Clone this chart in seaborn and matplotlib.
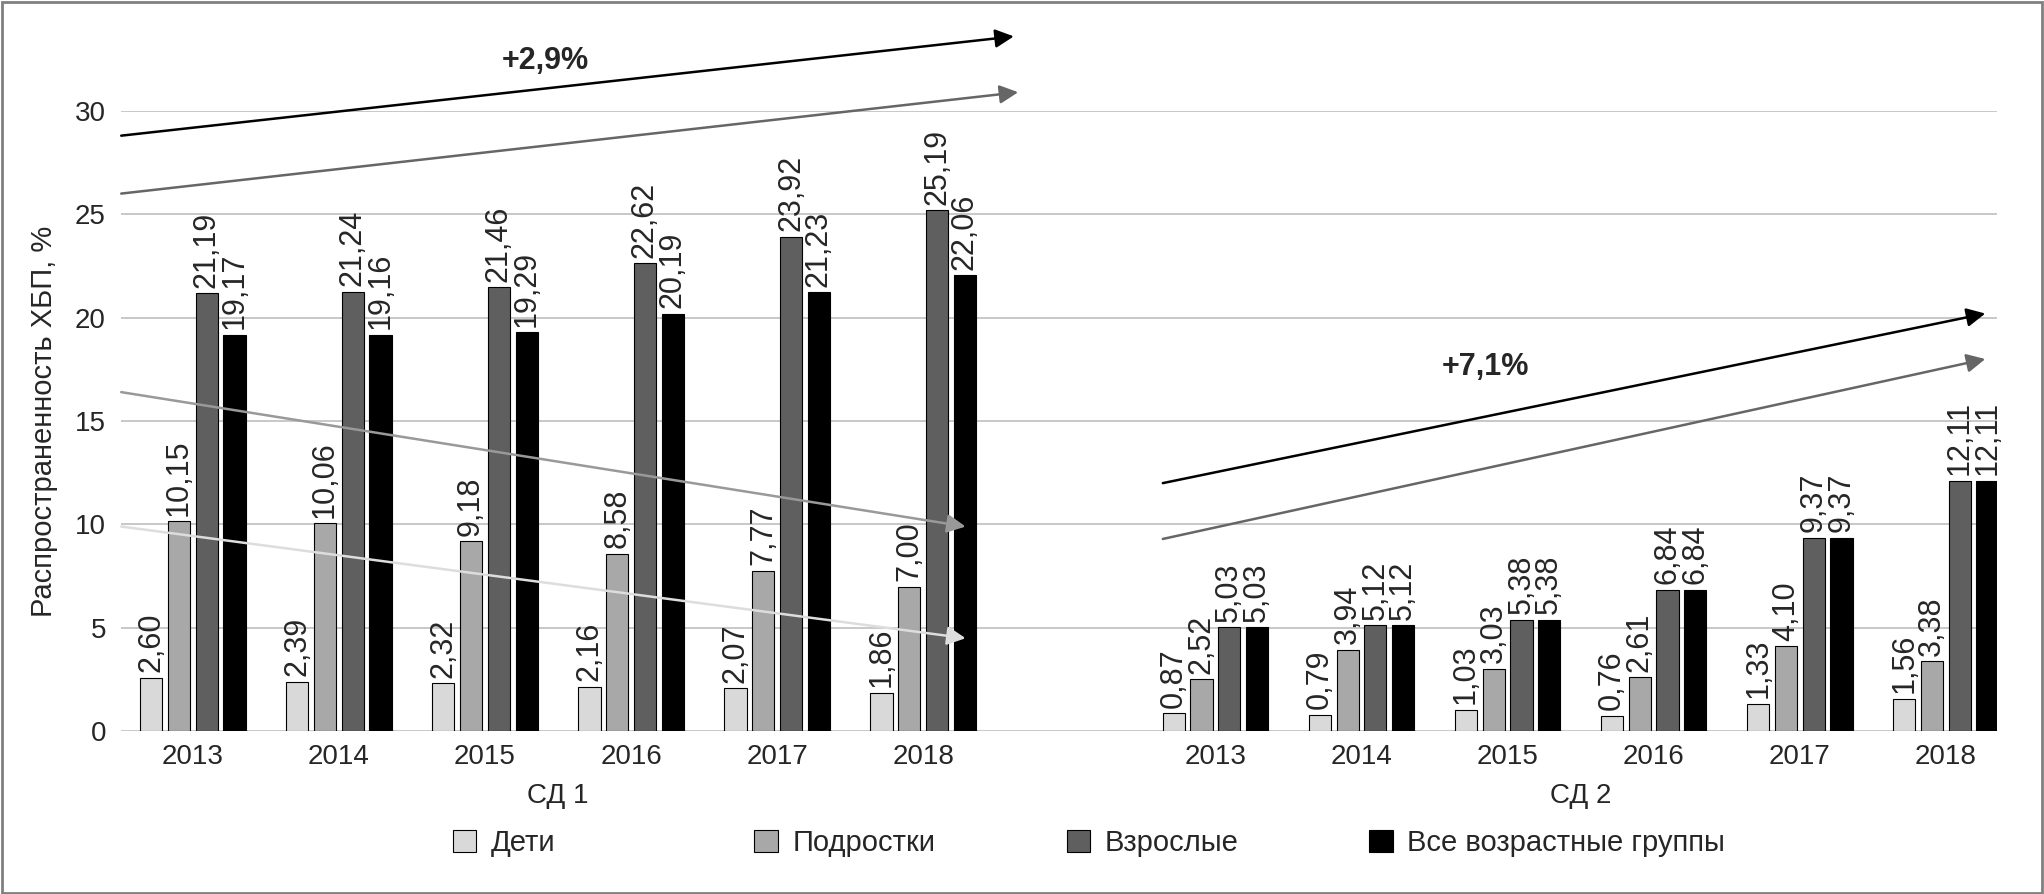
import pandas as pd
import seaborn as sns
import matplotlib
import matplotlib.pyplot as plt
from matplotlib.patches import Patch, Rectangle
from matplotlib.transforms import blended_transform_factory

sns.set_style('white')
matplotlib.rcParams['font.family'] = ['Liberation Sans', 'DejaVu Sans']
matplotlib.rcParams['font.size'] = 20

years = ["2013", "2014", "2015", "2016", "2017", "2018"]
groups = ["Дети", "Подростки", "Взрослые", "Все возрастные группы"]
colors = ["#d9d9d9", "#a8a8a8", "#5f5f5f", "#000000"]

# СД 1
children_sd1 = [2.60, 2.39, 2.32, 2.16, 2.07, 1.86]
teens_sd1 = [10.15, 10.06, 9.18, 8.58, 7.77, 7.00]
adults_sd1 = [21.19, 21.24, 21.46, 22.62, 23.92, 25.19]
all_sd1 = [19.17, 19.16, 19.29, 20.19, 21.23, 22.06]
# СД 2
children_sd2 = [0.87, 0.79, 1.03, 0.76, 1.33, 1.56]
teens_sd2 = [2.52, 3.94, 3.03, 2.61, 4.10, 3.38]
adults_sd2 = [5.03, 5.12, 5.38, 6.84, 9.37, 12.11]
all_sd2 = [5.03, 5.12, 5.38, 6.84, 9.37, 12.11]

rows = []
for sd, series in [("СД 1", [children_sd1, teens_sd1, adults_sd1, all_sd1]),
                   ("СД 2", [children_sd2, teens_sd2, adults_sd2, all_sd2])]:
    for g, vals in zip(groups, series):
        for y, v in zip(years, vals):
            rows.append({"slot": sd + " " + y, "group": g, "value": v})
df = pd.DataFrame(rows)
order = ["СД 1 " + y for y in years] + ["gap"] + ["СД 2 " + y for y in years]

fig = plt.figure(figsize=(20.44, 8.94), dpi=100)
ax = fig.add_axes([0.0593, 0.182, 0.9177, 0.694])

sns.barplot(data=df, x="slot", y="value", hue="group", order=order, hue_order=groups,
            palette=colors, width=0.76, gap=0.2, edgecolor="black", linewidth=0.8,
            errorbar=None, legend=False, ax=ax, zorder=3)

for cont in ax.containers:
    labels = [f"{b.get_height():.2f}".replace(".", ",") for b in cont]
    ax.bar_label(cont, labels=labels, rotation=90, padding=4, fontsize=22)

ax.set_ylim(0, 30)
ax.set_xlim(-0.49, 12.35)
ax.set_yticks(range(0, 31, 5))
ax.set_xticks(range(len(order)))
ax.set_xticklabels(years + [""] + years)
ax.tick_params(axis='x', length=0, pad=9, labelsize=20)
ax.tick_params(axis='y', length=0, pad=11, labelsize=20)
ax.grid(axis='y', color='#c4c4c4', linewidth=1.3, zorder=0)
ax.set_axisbelow(True)
for s in ax.spines.values():
    s.set_visible(False)
ax.set_xlabel("")
ax.set_ylabel("Распространенность ХБП, %", fontsize=21, labelpad=12)

trans = blended_transform_factory(ax.transData, ax.transAxes)
ax.text(2.5, -0.105, "СД 1", transform=trans, ha='center', va='center', fontsize=20)
ax.text(9.5, -0.105, "СД 2", transform=trans, ha='center', va='center', fontsize=20)

# trend arrows: (start, end, colour)
arrows = [((-0.49, 28.8), (5.62, 33.6), "#000000"),
          ((-0.49, 26.0), (5.65, 30.9), "#666666"),
          ((-0.49, 16.4), (5.29, 9.9), "#999999"),
          ((-0.49, 9.9), (5.29, 4.5), "#dddddd"),
          ((6.64, 12.0), (12.27, 20.2), "#000000"),
          ((6.64, 9.3), (12.27, 18.0), "#666666")]
for start, end, c in arrows:
    ax.annotate("", xy=end, xytext=start, annotation_clip=False,
                arrowprops=dict(arrowstyle='-|>', color=c, lw=1.8, mutation_scale=28,
                                shrinkA=0, shrinkB=0), zorder=5)
ax.text(2.41, 32.4, "+2,9%", ha='center', va='center', fontsize=22, fontweight='bold')
ax.text(8.85, 17.6, "+7,1%", ha='center', va='center', fontsize=22, fontweight='bold')

legend_x = [0.2215, 0.369, 0.522, 0.670]
for x, g, c in zip(legend_x, groups, colors):
    fig.legend(handles=[Patch(facecolor=c, edgecolor='black', linewidth=0.8, label=g)],
               loc='center left', bbox_to_anchor=(x, 0.057), frameon=False,
               borderpad=0, borderaxespad=0, handlelength=0.8, handleheight=0.8,
               handletextpad=0.5, fontsize=21)

fig.patches.append(Rectangle((0.001, 0.001), 0.998, 0.997, transform=fig.transFigure,
                             fill=False, edgecolor='#808080', linewidth=2))

fig.savefig("out.png", dpi=100)
